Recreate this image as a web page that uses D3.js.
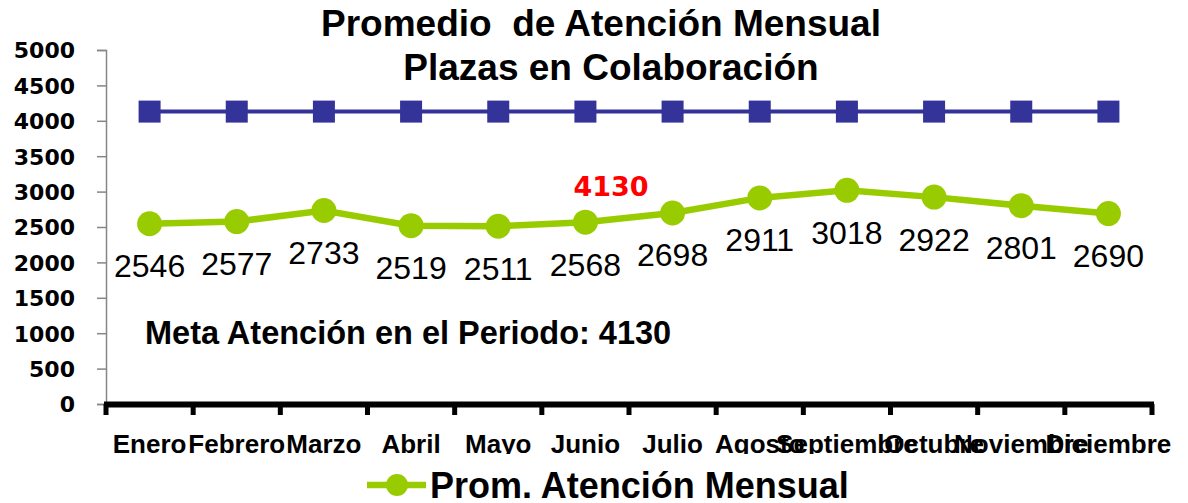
<!DOCTYPE html>
<html>
<head>
<meta charset="utf-8">
<script src="https://cdn.jsdelivr.net/npm/d3@7/dist/d3.min.js"></script>
<style>
  body { margin: 0; background: #fff; }
  svg { display: block; }
</style>
</head>
<body>
<svg width="1188" height="503"></svg>
<script>
// data
var months = ['Enero', 'Febrero', 'Marzo', 'Abril', 'Mayo', 'Junio', 'Julio',
    'Agosto', 'Septiembre', 'Octubre', 'Noviembre', 'Diciembre'];
var promedio = [2546, 2577, 2733, 2519, 2511, 2568, 2698, 2911, 3018, 2922, 2801, 2690];
var meta = [4130, 4130, 4130, 4130, 4130, 4130, 4130, 4130, 4130, 4130, 4130, 4130];
var yTicks = [0, 500, 1000, 1500, 2000, 2500, 3000, 3500, 4000, 4500, 5000];

var svg = d3.select('svg');
var plot = {l: 106, r: 1152, t: 50, b: 404};

var xScale = d3.scaleBand().domain(months).range([plot.l, plot.r]);
var yScale = d3.scaleLinear().domain([0, 5000]).range([plot.b, plot.t]);
var cx = function(m) { return xScale(m) + xScale.bandwidth() / 2; };

// title
var title = svg.append('text')
    .attr('text-anchor', 'middle')
    .style('font-family', '"Liberation Sans", Arial, sans-serif')
    .style('font-weight', 'bold')
    .style('font-size', '37px')
    .style('white-space', 'pre');
title.append('tspan').attr('x', 601).attr('y', 36).text('Promedio  de Atención Mensual');
title.append('tspan').attr('x', 611).attr('y', 80).text('Plazas en Colaboración');

// y axis
var yAxis = svg.append('g')
    .attr('transform', 'translate(' + plot.l + ',0)')
    .call(d3.axisLeft(yScale).tickValues(yTicks).tickFormat(d3.format('d'))
        .tickSize(9).tickPadding(22));
yAxis.select('.domain').attr('stroke', '#868686').attr('stroke-width', 1.5);
yAxis.selectAll('.tick line').attr('stroke', '#868686').attr('stroke-width', 1.5);
yAxis.selectAll('.tick text')
    .attr('dy', '0.36em')
    .style('font-family', '"DejaVu Sans", Verdana, sans-serif')
    .style('font-weight', 'bold')
    .style('font-size', '22px')
    .attr('fill', '#000');

// x axis: thick baseline with ticks at category boundaries
var bounds = months.map(function(m) { return xScale(m); }).concat([plot.r]);
svg.append('line')
    .attr('x1', plot.l - 2).attr('x2', plot.r + 2)
    .attr('y1', plot.b + 0.5).attr('y2', plot.b + 0.5)
    .attr('stroke', '#000').attr('stroke-width', 6);
svg.selectAll('.xtick')
    .data(bounds)
    .enter().append('rect')
    .attr('class', 'xtick')
    .attr('x', function(d) { return d - 2.5; })
    .attr('y', plot.b)
    .attr('width', 5)
    .attr('height', 11)
    .attr('fill', '#000');

svg.append('clipPath').attr('id', 'labclip')
    .append('rect').attr('x', 0).attr('y', 420).attr('width', 1188).attr('height', 34);
svg.append('g').attr('clip-path', 'url(#labclip)')
    .selectAll('.xlabel')
    .data(months)
    .enter().append('text')
    .attr('class', 'xlabel')
    .attr('x', cx)
    .attr('y', 453)
    .attr('text-anchor', 'middle')
    .style('font-family', '"Liberation Sans", Arial, sans-serif')
    .style('font-weight', 'bold')
    .style('font-size', '26px')
    .text(function(d) { return d; });

// meta line (blue squares)
var line = d3.line()
    .x(function(d, i) { return cx(months[i]); })
    .y(function(d) { return yScale(d); });
svg.append('path')
    .datum(meta)
    .attr('d', line)
    .attr('fill', 'none')
    .attr('stroke', '#333399')
    .attr('stroke-width', 4);
svg.selectAll('.sq')
    .data(meta)
    .enter().append('rect')
    .attr('class', 'sq')
    .attr('x', function(d, i) { return cx(months[i]) - 11; })
    .attr('y', function(d) { return yScale(d) - 11; })
    .attr('width', 22)
    .attr('height', 22)
    .attr('fill', '#333399');

// promedio line (green circles)
svg.append('path')
    .datum(promedio)
    .attr('d', line)
    .attr('fill', 'none')
    .attr('stroke', '#99cc00')
    .attr('stroke-width', 6.5);
svg.selectAll('.dot')
    .data(promedio)
    .enter().append('circle')
    .attr('class', 'dot')
    .attr('cx', function(d, i) { return cx(months[i]); })
    .attr('cy', function(d) { return yScale(d); })
    .attr('r', 12.5)
    .attr('fill', '#99cc00');

svg.selectAll('.vlabel')
    .data(promedio)
    .enter().append('text')
    .attr('class', 'vlabel')
    .attr('x', function(d, i) { return cx(months[i]); })
    .attr('y', function(d) { return yScale(d) + 53.5; })
    .attr('text-anchor', 'middle')
    .style('font-family', '"Liberation Sans", Arial, sans-serif')
    .style('font-size', '32px')
    .attr('fill', '#000')
    .text(function(d) { return d; });

// annotations
svg.append('text')
    .attr('x', 611)
    .attr('y', 196)
    .attr('text-anchor', 'middle')
    .style('font-family', '"DejaVu Sans", Verdana, sans-serif')
    .style('font-weight', 'bold')
    .style('font-size', '27px')
    .attr('fill', '#ff0000')
    .text('4130');

svg.append('text')
    .attr('x', 145)
    .attr('y', 344)
    .style('font-family', '"Liberation Sans", Arial, sans-serif')
    .style('font-weight', 'bold')
    .style('font-size', '32.5px')
    .attr('fill', '#000')
    .text('Meta Atención en el Periodo: 4130');

// legend
var legend = svg.append('g').attr('transform', 'translate(0,485)');
legend.append('line')
    .attr('x1', 367).attr('x2', 426)
    .attr('stroke', '#99cc00').attr('stroke-width', 6.5);
legend.append('circle')
    .attr('cx', 397).attr('r', 11)
    .attr('fill', '#99cc00');
legend.append('text')
    .attr('x', 430)
    .attr('y', 13)
    .style('font-family', '"Liberation Sans", Arial, sans-serif')
    .style('font-weight', 'bold')
    .style('font-size', '36px')
    .attr('fill', '#000')
    .text('Prom. Atención Mensual');
</script>
</body>
</html>
